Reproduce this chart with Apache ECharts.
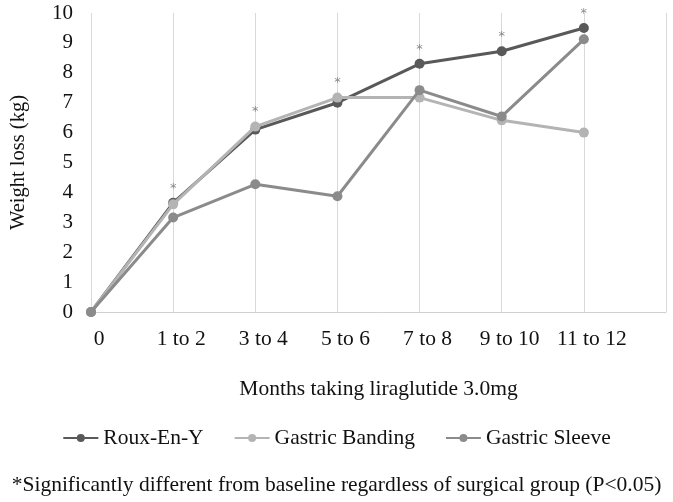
<!DOCTYPE html>
<html>
<head>
<meta charset="utf-8">
<script src="https://cdn.jsdelivr.net/npm/echarts@6/dist/echarts.min.js"></script>
<style>html,body{margin:0;padding:0;background:#fff}#c{width:673px;height:502px}</style>
</head>
<body>
<div id="c"></div>
<script>
const categories = ['0', '1 to 2', '3 to 4', '5 to 6', '7 to 8', '9 to 10', '11 to 12', ''];
const rouxEnY = [0, 3.65, 6.1, 7.0, 8.3, 8.72, 9.5];
const gastricBanding = [0, 3.6, 6.2, 7.17, 7.17, 6.41, 6.0];
const gastricSleeve = [0, 3.16, 4.27, 3.87, 7.42, 6.54, 9.12];
const significant = [false, true, true, true, true, true, true];
const yTicks = [0, 1, 2, 3, 4, 5, 6, 7, 8, 9, 10];

const FONT = '"Liberation Serif", "DejaVu Serif", serif';
const colors = ['#595959', '#b4b4b4', '#8b8b8b'];

const starData = categories.map((c, i) => {
  if (!significant[i]) return null;
  return Math.max(rouxEnY[i], gastricBanding[i], gastricSleeve[i]);
});

const chart = echarts.init(document.getElementById('c'), null, {renderer: 'canvas'});
const lineSeries = (name, data, color, z) => ({
  name, type: 'line', data, z,
  symbol: 'circle', symbolSize: 10,
  lineStyle: {color, width: 3},
  itemStyle: {color},
  emphasis: {disabled: true},
  animation: false
});
chart.setOption({
  animation: false,
  color: colors,
  grid: {left: 88, right: 7, top: 13, bottom: 190, containLabel: false},
  xAxis: {
    type: 'category', data: categories, boundaryGap: false,
    axisLine: {show: true, lineStyle: {color: '#d0d0d0', width: 1}},
    axisTick: {show: false},
    splitLine: {show: true, lineStyle: {color: '#d9d9d9', width: 1}},
    axisLabel: {fontFamily: FONT, fontSize: 21.5, color: '#111', margin: 16, padding: [0, 0, 0, 16], interval: 0},
    name: 'Months taking liraglutide 3.0mg', nameLocation: 'middle', nameGap: 66,
    nameTextStyle: {fontFamily: FONT, fontSize: 21.5, color: '#111'}
  },
  yAxis: {
    type: 'value', min: yTicks[0], max: yTicks[yTicks.length - 1], interval: 1,
    axisLine: {show: false}, axisTick: {show: false}, splitLine: {show: false},
    axisLabel: {fontFamily: FONT, fontSize: 21, color: '#111', margin: 18},
    name: 'Weight loss (kg)', nameLocation: 'middle', nameGap: 62,
    nameTextStyle: {fontFamily: FONT, fontSize: 20.5, color: '#111'}
  },
  legend: {
    bottom: 48, left: 'center', itemWidth: 35, itemHeight: 10, itemGap: 30,
    textStyle: {fontFamily: FONT, fontSize: 21.5, color: '#111'},
    data: ['Roux-En-Y', 'Gastric Banding', 'Gastric Sleeve']
  },
  graphic: [{
    type: 'text', left: 'center', top: 474,
    style: {text: '*Significantly different from baseline regardless of surgical group (P<0.05)',
      font: '21.5px ' + FONT, fill: '#111'}
  }],
  series: [
    lineSeries('Roux-En-Y', rouxEnY, colors[0], 3),
    lineSeries('Gastric Banding', gastricBanding, colors[1], 4),
    lineSeries('Gastric Sleeve', gastricSleeve, colors[2], 5),
    {
      type: 'scatter', data: starData, symbolSize: 0, silent: true, z: 6,
      label: {show: true, position: 'top', distance: 8, formatter: '*',
        fontFamily: '"DejaVu Sans", sans-serif', fontSize: 13, color: '#6e6e6e'}
    }
  ]
});
</script>
</body>
</html>
